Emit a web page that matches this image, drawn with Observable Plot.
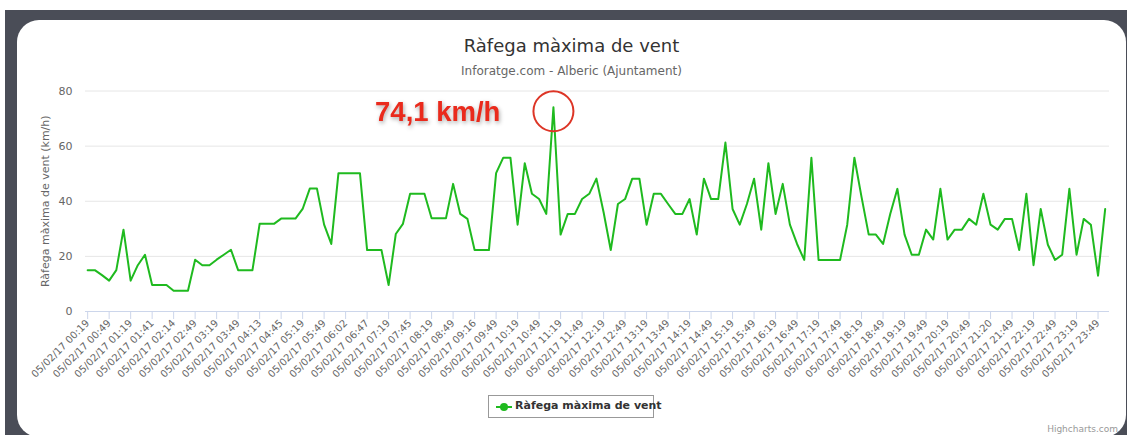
<!DOCTYPE html>
<html>
<head>
<meta charset="utf-8">
<script src="https://cdn.jsdelivr.net/npm/d3@7"></script>
<script src="https://cdn.jsdelivr.net/npm/@observablehq/plot@0.6"></script>
<style>
  html, body { margin: 0; padding: 0; background: #ffffff; width: 1127px; height: 435px; overflow: hidden; position: relative; font-family: "DejaVu Sans", sans-serif; }
  #frame { position: absolute; left: 5px; top: 10px; width: 1122px; height: 425px; background: #4a4d57; }
  #card { position: absolute; left: 17px; top: 20px; width: 1109px; height: 417px; background: #fff; border-radius: 22px; }
  #title { position: absolute; left: 17px; width: 1109px; top: 37px; text-align: center; font-size: 18px; line-height: 18px; color: #333; }
  #subtitle { position: absolute; left: 17px; width: 1109px; top: 65px; text-align: center; font-size: 12px; line-height: 12px; color: #666; }
  #chart { position: absolute; left: 0; top: 80px; }
  #chart svg { overflow: visible; }
  #chart g[aria-label="text"] { filter: drop-shadow(1px 2px 2px rgba(0,0,0,0.35)); }
  #legend { position: absolute; left: 488px; top: 395px; width: 164px; height: 21px; border: 1px solid #999; background: #fff; }
  #legend svg { position: absolute; left: 6px; top: 5px; }
  #legend span { position: absolute; left: 26px; top: 4px; font-weight: bold; font-size: 11px; line-height: 12px; color: #333; white-space: nowrap; }
  #credits { position: absolute; right: 9px; top: 424px; font-size: 9px; color: #999; }
</style>
</head>
<body>
<div id="frame"></div>
<div id="card"></div>
<div id="title"></div>
<div id="subtitle"></div>
<div id="chart"></div>
<div id="legend"><svg width="18" height="12"><line x1="1" y1="6" x2="17" y2="6" stroke="#1fba1f" stroke-width="2"/><circle cx="9" cy="6" r="4" fill="#1fba1f"/></svg><span></span></div>
<div id="credits">Highcharts.com</div>
<script>
const titleText = "Ràfega màxima de vent";
const subtitleText = "Inforatge.com - Alberic (Ajuntament)";
const seriesName = "Ràfega màxima de vent";
const yAxisTitle = "Ràfega màxima de vent (km/h)";
const yTicks = [0, 20, 40, 60, 80];

// one x-axis label for every third reading (10-minute readings)
const tickLabels = [
  "05/02/17 00:19","05/02/17 00:49","05/02/17 01:19","05/02/17 01:41","05/02/17 02:14","05/02/17 02:49",
  "05/02/17 03:19","05/02/17 03:49","05/02/17 04:13","05/02/17 04:45","05/02/17 05:19","05/02/17 05:49",
  "05/02/17 06:02","05/02/17 06:47","05/02/17 07:19","05/02/17 07:45","05/02/17 08:19","05/02/17 08:49",
  "05/02/17 09:16","05/02/17 09:49","05/02/17 10:19","05/02/17 10:49","05/02/17 11:19","05/02/17 11:49",
  "05/02/17 12:19","05/02/17 12:49","05/02/17 13:19","05/02/17 13:49","05/02/17 14:19","05/02/17 14:49",
  "05/02/17 15:19","05/02/17 15:49","05/02/17 16:19","05/02/17 16:49","05/02/17 17:19","05/02/17 17:49",
  "05/02/17 18:19","05/02/17 18:49","05/02/17 19:19","05/02/17 19:49","05/02/17 20:19","05/02/17 20:49",
  "05/02/17 21:20","05/02/17 21:49","05/02/17 22:19","05/02/17 22:49","05/02/17 23:19","05/02/17 23:49"
];

// gust values (km/h), one per reading
const gustValues = [
  15.0, 15.0, 13.2, 11.2, 15.0, 29.7, 11.2, 16.8, 20.6, 9.6,
  9.6, 9.6, 7.5, 7.5, 7.5, 18.8, 16.8, 16.8, 18.8, 20.6,
  22.4, 15.0, 15.0, 15.0, 31.8, 31.8, 31.8, 33.7, 33.7, 33.7,
  37.2, 44.6, 44.6, 31.5, 24.5, 50.2, 50.2, 50.2, 50.2, 22.3,
  22.3, 22.3, 9.6, 28.1, 31.8, 42.7, 42.7, 42.7, 33.8, 33.8,
  33.8, 46.3, 35.4, 33.6, 22.3, 22.3, 22.3, 50.2, 55.8, 55.8,
  31.5, 53.8, 42.7, 40.8, 35.4, 74.1, 27.9, 35.4, 35.4, 40.8,
  42.7, 48.2, 36.0, 22.3, 39.0, 40.8, 48.2, 48.2, 31.5, 42.7,
  42.7, 39.0, 35.4, 35.4, 40.8, 27.9, 48.2, 40.8, 40.8, 61.3,
  37.2, 31.5, 39.0, 48.2, 29.7, 53.8, 35.4, 46.3, 31.5, 24.5,
  18.7, 55.8, 18.7, 18.7, 18.7, 18.7, 31.5, 55.8, 41.5, 27.9,
  27.9, 24.5, 35.4, 44.5, 27.9, 20.6, 20.6, 29.7, 26.1, 44.5,
  26.1, 29.7, 29.7, 33.6, 31.5, 42.7, 31.5, 29.7, 33.6, 33.6,
  22.3, 42.7, 16.8, 37.2, 24.2, 18.7, 20.6, 44.5, 20.6, 33.6,
  31.5, 13.0, 37.2
];

document.getElementById("title").textContent = titleText;
document.getElementById("subtitle").textContent = subtitleText;
document.querySelector("#legend span").textContent = seriesName;

const data = gustValues.map((v, i) => ({i, v}));
const peak = data.reduce((a, b) => (b.v > a.v ? b : a));
const tickIdx = tickLabels.map((_, k) => k * 3);

const chart = Plot.plot({
  width: 1127,
  height: 320,
  marginLeft: 85,
  marginRight: 18,
  marginTop: 10.5,
  marginBottom: 89,
  style: {fontFamily: "DejaVu Sans, sans-serif", fontSize: "10px", color: "#666", background: "transparent"},
  x: {type: "linear", domain: [-0.3, 142.6]},
  y: {domain: [0, 80]},
  marks: [
    Plot.gridY(yTicks.filter(d => d > 0), {stroke: "#e6e6e6", strokeOpacity: 1}),
    Plot.ruleY([0], {stroke: "#ccd6eb"}),
    Plot.axisY(yTicks, {tickSize: 0, tickPadding: 13, fontSize: 11, fill: "#666",
      label: yAxisTitle, labelAnchor: "center", labelArrow: "none", labelOffset: 44}),
    Plot.axisX(tickIdx, {tickFormat: i => tickLabels[i / 3], tickRotate: -45, tickSize: 8, tickPadding: 2,
      stroke: "#ccd6eb", fill: "#666", fontSize: 10, label: null}),
    Plot.line(data, {x: "i", y: "v", stroke: "#1fba1f", strokeWidth: 2}),
    Plot.dot([peak], {x: "i", y: "v", r: 20, dy: 4, fill: "none", stroke: "#dd3526", strokeWidth: 2}),
    Plot.text([peak], {x: "i", y: "v", text: d => d.v.toFixed(1).replace(".", ",") + " km/h",
      dx: -53, dy: 5, textAnchor: "end", fontSize: 27.5, fontWeight: "bold",
      fontFamily: "Liberation Sans, Arial, sans-serif", fill: "#ea2a1c"})
  ]
});
document.getElementById("chart").appendChild(chart);
</script>
</body>
</html>
